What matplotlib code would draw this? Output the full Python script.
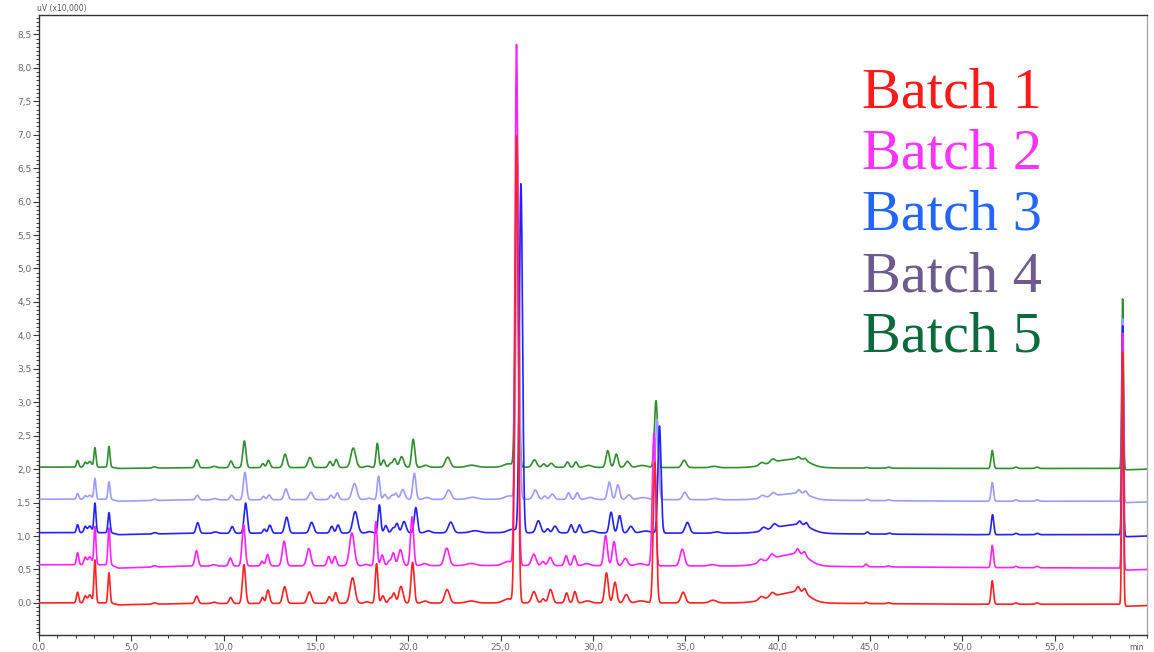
import numpy as np
import matplotlib
matplotlib.use("Agg")
import matplotlib.pyplot as plt
from matplotlib.ticker import MultipleLocator, FuncFormatter, AutoMinorLocator

# ---------------- data ----------------
batch_names = ["Batch 1", "Batch 2", "Batch 3", "Batch 4", "Batch 5"]

# retention times (min) and peak widths (sigma, min)
peak_times = [2.09, 2.50, 2.75, 3.03, 3.79, 6.25, 8.54, 9.48, 10.38, 11.10,
              12.10, 12.40, 13.30, 14.64, 15.72, 16.06, 16.98, 17.75, 18.28, 18.62,
              19.00, 19.22, 19.60, 20.23, 20.90, 22.10, 23.40, 25.40, 25.86, 26.80,
              27.30, 27.70, 28.57, 29.02, 29.70, 30.73, 31.19, 31.80, 32.60, 33.35,
              34.88, 36.50, 39.10, 39.70, 40.40, 41.30, 41.10, 41.47, 44.80, 46.00,
              51.62, 52.90, 54.05, 58.68]
peak_widths = [0.06, 0.07, 0.10, 0.055, 0.055, 0.10, 0.085, 0.12, 0.085, 0.085,
               0.07, 0.085, 0.10, 0.11, 0.085, 0.085, 0.13, 0.12, 0.07, 0.085,
               0.085, 0.085, 0.11, 0.085, 0.14, 0.13, 0.25, 0.25, 0.085, 0.12,
               0.085, 0.11, 0.085, 0.085, 0.18, 0.095, 0.095, 0.12, 0.25, 0.085,
               0.12, 0.18, 0.12, 0.12, 0.90, 0.45, 0.08, 0.08, 0.07, 0.09,
               0.065, 0.08, 0.08, 0.045]

# peak heights (uV x10,000) per batch
heights_b1 = [0.16, 0.10, 0.12, 0.64, 0.45, 0.02, 0.11, 0.02, 0.09, 0.58,
              0.09, 0.20, 0.25, 0.17, 0.10, 0.16, 0.38, 0.02, 0.59, 0.11,
              0.07, 0.15, 0.25, 0.61, 0.03, 0.20, 0.03, 0.06, 6.97, 0.17,
              0.06, 0.20, 0.15, 0.17, 0.03, 0.45, 0.31, 0.125, 0.03, 2.10,
              0.16, 0.04, 0.05, 0.06, 0.13, 0.09, 0.07, 0.07, 0.02, 0.015,
              0.35, 0.02, 0.02, 3.78]
heights_b2 = [0.18, 0.11, 0.12, 0.57, 0.55, 0.02, 0.23, 0.02, 0.12, 0.62,
              0.07, 0.17, 0.37, 0.26, 0.14, 0.14, 0.49, 0.02, 0.66, 0.16,
              0.07, 0.19, 0.24, 0.73, 0.03, 0.26, 0.03, 0.06, 7.78, 0.17,
              0.06, 0.12, 0.15, 0.15, 0.03, 0.45, 0.36, 0.11, 0.03, 1.98,
              0.25, 0.02, 0.05, 0.07, 0.15, 0.09, 0.07, 0.06, 0.04, 0.015,
              0.33, 0.02, 0.02, 3.52]
heights_b3 = [0.12, 0.09, 0.10, 0.44, 0.30, 0.02, 0.16, 0.02, 0.10, 0.45,
              0.06, 0.12, 0.24, 0.16, 0.10, 0.12, 0.32, 0.02, 0.42, 0.11,
              0.07, 0.14, 0.17, 0.38, 0.03, 0.16, 0.03, 0.05, 5.21, 0.18,
              0.06, 0.10, 0.12, 0.12, 0.03, 0.31, 0.26, 0.10, 0.03, 1.60,
              0.16, 0.02, 0.05, 0.06, 0.11, 0.06, 0.05, 0.05, 0.03, 0.015,
              0.30, 0.02, 0.02, 3.13]
heights_b4 = [0.085, 0.05, 0.06, 0.31, 0.26, 0.02, 0.07, 0.02, 0.07, 0.41,
              0.05, 0.07, 0.16, 0.11, 0.065, 0.10, 0.24, 0.02, 0.35, 0.075,
              0.06, 0.09, 0.15, 0.39, 0.03, 0.14, 0.03, 0.05, 5.00, 0.14,
              0.05, 0.08, 0.10, 0.10, 0.03, 0.26, 0.22, 0.07, 0.03, 1.20,
              0.11, 0.02, 0.04, 0.05, 0.08, 0.05, 0.05, 0.05, 0.02, 0.015,
              0.28, 0.02, 0.02, 2.73]
heights_b5 = [0.10, 0.07, 0.085, 0.29, 0.31, 0.02, 0.12, 0.02, 0.10, 0.40,
              0.06, 0.11, 0.20, 0.15, 0.09, 0.12, 0.29, 0.02, 0.36, 0.11,
              0.06, 0.13, 0.16, 0.42, 0.03, 0.15, 0.03, 0.05, 4.90, 0.11,
              0.05, 0.06, 0.08, 0.08, 0.03, 0.25, 0.20, 0.09, 0.03, 1.00,
              0.11, 0.02, 0.04, 0.05, 0.11, 0.06, 0.03, 0.03, 0.01, 0.015,
              0.27, 0.02, 0.02, 2.54]

# retention-time drift per batch (min) at knot times
shift_knots = [0, 5, 11, 18, 26, 31, 34, 41, 50, 58, 60]
shift_b1 = [0, 0, 0, 0, 0, 0, 0, 0, 0, 0, 0]
shift_b2 = [0, 0, -0.02, -0.04, 0, -0.05, -0.05, -0.02, 0, 0, 0]
shift_b3 = [0, 0, 0.09, 0.15, 0.24, 0.25, 0.25, 0.09, 0.02, 0, 0]
shift_b4 = [0, 0, 0.05, 0.11, 0.06, 0.16, 0.10, 0.05, 0, 0, 0]
shift_b5 = [0, 0, 0.02, 0.04, 0.02, 0.07, 0.06, 0.02, 0, 0, 0]

# baseline (uV x10,000) per batch at knot times
base_knots = [0, 3.9, 4.3, 8, 25, 40, 50, 58.6, 58.9, 60]
base_b1 = [0.00, 0.00, -0.03, -0.01, 0.00, 0.00, -0.02, -0.02, -0.05, -0.04]
base_b2 = [0.57, 0.57, 0.52, 0.55, 0.56, 0.55, 0.53, 0.52, 0.49, 0.50]
base_b3 = [1.05, 1.05, 1.02, 1.04, 1.05, 1.04, 1.02, 1.02, 0.99, 1.00]
base_b4 = [1.55, 1.55, 1.52, 1.54, 1.55, 1.54, 1.52, 1.52, 1.50, 1.51]
base_b5 = [2.03, 2.03, 2.01, 2.02, 2.03, 2.02, 2.01, 2.01, 1.99, 2.00]

x_ticks = [0, 5, 10, 15, 20, 25, 30, 35, 40, 45, 50, 55]
y_ticks = [0.0, 0.5, 1.0, 1.5, 2.0, 2.5, 3.0, 3.5, 4.0, 4.5, 5.0, 5.5, 6.0, 6.5, 7.0, 7.5, 8.0, 8.5]

# ---------------- styling ----------------
line_colors = ["#ff2222", "#ff22ff", "#2222ff", "#9c9cff", "#2f8f2f"]
text_colors = ["#ff1a1a", "#ff33ff", "#2266ff", "#6b5b8e", "#0b6b3d"]

heights = [heights_b1, heights_b2, heights_b3, heights_b4, heights_b5]
shifts = [shift_b1, shift_b2, shift_b3, shift_b4, shift_b5]
bases = [base_b1, base_b2, base_b3, base_b4, base_b5]

t = np.linspace(0, 60, 12001)
pt = np.array(peak_times)
pw = np.array(peak_widths)

fig = plt.figure(figsize=(11.54, 6.52), dpi=100)
ax = fig.add_axes([39 / 1154, 17 / 652, (1147 - 39) / 1154, (635 - 15) / 652])

curves = []
for h, s, b in zip(heights, shifts, bases):
    centers = pt + np.interp(pt, shift_knots, s)
    y = np.interp(t, base_knots, b).copy()
    for c, w, hh in zip(centers, pw, h):
        y += hh * np.exp(-0.5 * ((t - c) / w) ** 2)
    curves.append(y)

# draw green (back) to red (front)
for i in [4, 3, 2, 1, 0]:
    ax.plot(t, curves[i], color=line_colors[i], lw=1.2, zorder=2 + (4 - i),
            solid_joinstyle="round")

ax.set_xlim(0, 60)
ax.set_ylim(-0.48, 8.79)
ax.set_xticks(x_ticks)
ax.set_yticks(y_ticks)
ax.xaxis.set_minor_locator(MultipleLocator(1))
ax.yaxis.set_minor_locator(AutoMinorLocator(8))
fmt = FuncFormatter(lambda v, p: f"{v:.1f}".replace(".", ","))
ax.xaxis.set_major_formatter(fmt)
ax.yaxis.set_major_formatter(fmt)

ax.tick_params(axis="both", which="major", labelsize=6.5, labelcolor="#666666",
               color="#333333", length=4, width=0.8, direction="out", pad=1.5)
ax.tick_params(axis="both", which="minor", color="#333333", length=2.5, width=0.7,
               direction="out")
for sp in ["left", "bottom", "top"]:
    ax.spines[sp].set_color("#333333")
    ax.spines[sp].set_linewidth(1.0)
ax.spines["right"].set_color("#aaaaaa")
ax.spines["right"].set_linewidth(1.0)

ax.text(-0.002, 1.004, "uV (x10,000)", transform=ax.transAxes, fontsize=5.5,
        color="#555555", ha="left", va="bottom")
ax.text(0.997, -0.013, "min", transform=ax.transAxes, fontsize=5.5,
        color="#555555", ha="right", va="top")

# legend-like labels
baselines_px = [108, 168, 229, 291, 352]
for name, col, yb in zip(batch_names, text_colors, baselines_px):
    fig.text(862 / 1154, 1 - yb / 652, name, color=col, fontsize=42,
             family="Liberation Serif", ha="left", va="baseline")

fig.savefig("out.png", dpi=100)
